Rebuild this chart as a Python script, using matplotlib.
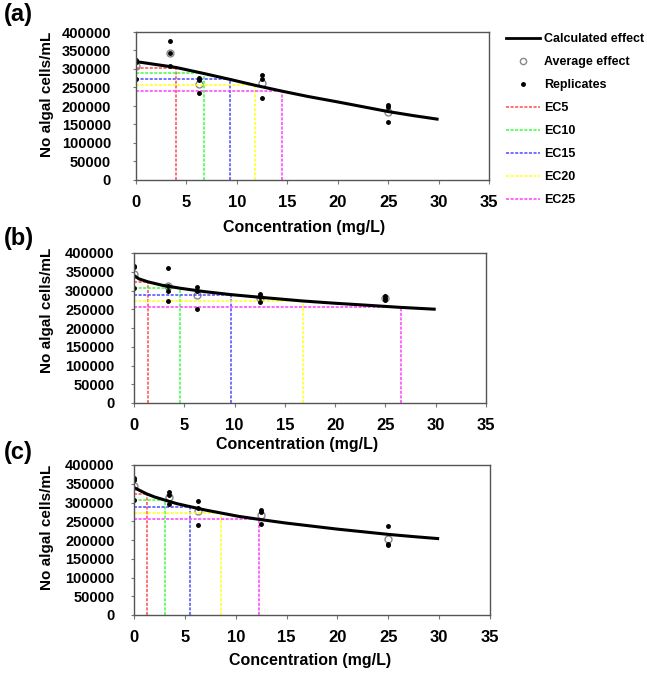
import numpy as np
import matplotlib
matplotlib.use("Agg")
import matplotlib.pyplot as plt
from matplotlib.lines import Line2D

plt.rcParams['font.family'] = ['Liberation Sans', 'DejaVu Sans']
plt.rcParams['font.weight'] = 'bold'

# concentrations of the test (mg/L)
conc = [0, 3.4, 6.25, 12.5, 25]

# panel (a)
rep_a = [[324000, 318000, 272000], [375000, 342000, 309000], [277000, 270000, 236000],
         [283000, 274000, 221000], [203000, 196000, 156000]]
avg_a = [307000, 342000, 259000, 262000, 185000]
curve_x_a = [0, 2, 4, 6.7, 9.3, 11.8, 14.5, 17, 20, 22.5, 25, 27.5, 30]
curve_y_a = [320000, 312000, 304000, 288000, 272000, 256000, 240000, 226000, 211000, 198000, 185000, 174000, 164000]
ec_x_a = [4.0, 6.7, 9.3, 11.8, 14.5]
ec_y_a = [304000, 288000, 272000, 256000, 240000]

# panel (b)
rep_b = [[366000, 362000, 308000], [360000, 313000, 300000, 272000], [309000, 300000, 250000],
         [292000, 283000, 269000], [286000, 280000, 276000]]
avg_b = [345000, 311000, 288000, 281000, 281000]
curve_x_b = [0, 0.5, 1.4, 2.8, 4.6, 7, 9.65, 12.5, 16.8, 20, 23, 26.5, 30]
curve_y_b = [340000, 331000, 323000, 314000, 306000, 297000, 289000, 282000, 272000, 266000, 261000, 255000, 250000]
ec_x_b = [1.4, 4.6, 9.65, 16.8, 26.5]
ec_y_b = [323000, 306000, 289000, 272000, 255000]

# panel (c)
rep_c = [[366000, 360000, 308000], [327000, 319000, 297000], [305000, 286000, 241000],
         [280000, 274000, 244000], [238000, 190000, 186000]]
avg_c = [344000, 314000, 277000, 266000, 203000]
curve_x_c = [0, 0.5, 1.25, 2, 3.08, 4.2, 5.5, 7, 8.55, 10.3, 12.3, 15, 17.5, 20, 22.5, 25, 27.5, 30]
curve_y_c = [340000, 333000, 323000, 315000, 306000, 297000, 289000, 280000, 272000, 263000, 255000, 245000, 237000, 229000, 222000, 215000, 209000, 203500]
ec_x_c = [1.25, 3.08, 5.5, 8.55, 12.3]
ec_y_c = [323000, 306000, 289000, 272000, 255000]

ec_labels = ['EC5', 'EC10', 'EC15', 'EC20', 'EC25']
ec_colors = ['#ff4a4a', '#3cff3c', '#4a4aff', '#ffff1a', '#ff3cff']

W, H = 647, 673
fig = plt.figure(figsize=(W / 100, H / 100), dpi=100)

# axes boxes in pixels: left, top, right, bottom
boxes = [(136, 32, 489, 180), (134, 253, 486, 403), (134, 465, 490, 615)]
panels = [
    ('(a)', rep_a, avg_a, curve_x_a, curve_y_a, ec_x_a, ec_y_a),
    ('(b)', rep_b, avg_b, curve_x_b, curve_y_b, ec_x_b, ec_y_b),
    ('(c)', rep_c, avg_c, curve_x_c, curve_y_c, ec_x_c, ec_y_c),
]
ypads = [16, 12, 12]
name_y = [15, 238, 452]          # panel letter centres (px)
xlab_pos = [(304, 228), (297, 445), (310, 660)]   # x label centres (px)
ylab_y = [94, 310, 527]          # y label centres (px)

for i, (name, reps, avg, cx, cy, ex, ey) in enumerate(panels):
    l, t, r, b = boxes[i]
    ax = fig.add_axes([l / W, 1 - b / H, (r - l) / W, (b - t) / H])

    for x, y, c in zip(ex, ey, ec_colors):
        ax.plot([0, x], [y, y], color=c, lw=1.1, dashes=(2, 1))
        ax.plot([x, x], [0, y], color=c, lw=1.1, dashes=(2, 1))

    ax.plot(cx, cy, color='black', lw=2.2, solid_capstyle='butt')
    for x, rr in zip(conc, reps):
        ax.plot([x] * len(rr), rr, 'o', color='black', ms=2.5, ls='none')
    ax.plot(conc, avg, 'o', mfc='white', mec='#888888', mew=1.0, ms=5, ls='none', zorder=1.5)

    ax.set_xlim(0, 35)
    ax.set_ylim(0, 400000)
    ax.set_xticks(range(0, 36, 5))
    ax.set_yticks(range(0, 400001, 50000))
    ax.tick_params(axis='x', length=3, pad=8, labelsize=12, color='#777777')
    ax.tick_params(axis='y', length=2, pad=ypads[i], labelsize=10.5, color='#777777')
    for s in ax.spines.values():
        s.set_color('#555555')
        s.set_linewidth(1.0)
    ax.set_xlabel('Concentration (mg/L)', fontsize=11.5, fontweight='bold', va='center')
    ax.set_ylabel('No algal cells/mL', fontsize=11, fontweight='bold', va='center')
    xl, yl = xlab_pos[i]
    ax.xaxis.set_label_coords((xl - l) / (r - l), (b - yl) / (b - t))
    ax.yaxis.set_label_coords((47 - l) / (r - l), (b - ylab_y[i]) / (b - t))
    fig.text(4 / W, 1 - name_y[i] / H, name, fontsize=17, fontweight='bold', va='center', ha='left')

handles = [Line2D([], [], color='black', lw=2),
           Line2D([], [], marker='o', mfc='white', mec='#888888', ms=4.5, ls='none'),
           Line2D([], [], marker='o', color='black', ms=2.5, ls='none')]
handles += [Line2D([], [], color=c, lw=1.1, dashes=(2, 1)) for c in ec_colors]
labels = ['Calculated effect', 'Average effect', 'Replicates'] + ec_labels
fig.legend(handles, labels, loc='upper left', bbox_to_anchor=(506 / W, 1 - 33 / H),
           frameon=False, fontsize=9, labelspacing=0.88, handlelength=2.7,
           handletextpad=0.35, borderpad=0, borderaxespad=0)

fig.savefig('out.png', dpi=100)
